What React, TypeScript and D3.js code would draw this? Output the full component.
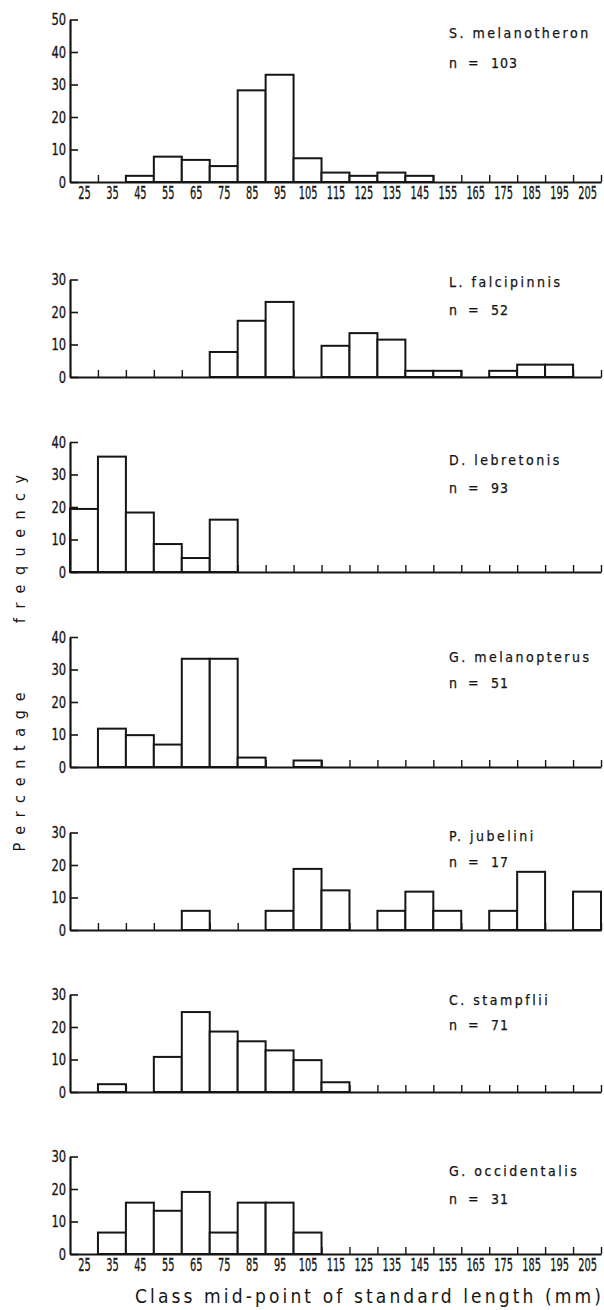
import React, { useEffect, useRef } from "react";
import * as d3 from "d3";

// class mid-points of standard length (mm), also the x tick labels
const midPoints = [25, 35, 45, 55, 65, 75, 85, 95, 105, 115, 125, 135, 145, 155, 165, 175, 185, 195, 205];

const speciesNames = [
  "S. melanotheron",
  "L. falcipinnis",
  "D. lebretonis",
  "G. melanopterus",
  "P. jubelini",
  "C. stampflii",
  "G. occidentalis",
];
const sampleSizes = [103, 52, 93, 51, 17, 71, 31];
const yMaxima = [50, 30, 40, 40, 30, 30, 30];

// percentage frequency per class
const melanotheron = [0, 0, 1.9, 7.8, 6.8, 4.9, 28.2, 33.0, 7.3, 2.9, 1.9, 2.9, 1.9, 0, 0, 0, 0, 0, 0];
const falcipinnis = [0, 0, 0, 0, 0, 7.7, 17.3, 23.1, 0, 9.6, 13.5, 11.5, 1.9, 1.9, 0, 1.9, 3.8, 3.8, 0];
const lebretonis = [19.4, 35.5, 18.3, 8.6, 4.3, 16.1, 0, 0, 0, 0, 0, 0, 0, 0, 0, 0, 0, 0, 0];
const melanopterus = [0, 11.8, 9.8, 6.9, 33.3, 33.3, 2.9, 0, 2.0, 0, 0, 0, 0, 0, 0, 0, 0, 0, 0];
const jubelini = [0, 0, 0, 0, 5.9, 0, 0, 5.9, 18.8, 12.2, 0, 5.9, 11.8, 5.9, 0, 5.9, 17.9, 0, 11.8];
const stampflii = [0, 2.4, 0, 10.8, 24.6, 18.6, 15.6, 12.8, 9.8, 3.0, 0, 0, 0, 0, 0, 0, 0, 0, 0];
const occidentalis = [0, 6.6, 15.8, 13.3, 19.1, 6.6, 15.8, 15.8, 6.6, 0, 0, 0, 0, 0, 0, 0, 0, 0, 0];

const series = [melanotheron, falcipinnis, lebretonis, melanopterus, jubelini, stampflii, occidentalis];

// layout
const W = 604;
const H = 1310;
const AXIS_X = 70;
const AXIS_END = 601;
const PX_PER_UNIT = 3.25;
const baselines = [182, 377, 572, 767, 930, 1092, 1254];
const titleYs = [33, 282, 460, 657, 836, 1000, 1171];
const nYs = [63, 310, 488, 683, 862, 1025, 1199];
const INK = "#151515";
const FONT = "'DejaVu Sans Condensed', 'DejaVu Sans', sans-serif";

export default function App() {
  const ref = useRef<SVGSVGElement>(null);

  useEffect(() => {
    const svg = d3.select(ref.current);
    svg.selectAll("*").remove();
    plot(svg);
  }, []);

  return (
    <svg
      ref={ref}
      width={W}
      height={H}
      style={{ position: "absolute", left: 0, top: 0, background: "#fff" }}
    />
  );
}

function plot(svg: any) {
  const x = d3.scaleLinear().domain([20, 210]).range([AXIS_X, AXIS_END]);
  const edges = d3.range(30, 211, 10);

  series.forEach((values, i) => {
    const base = baselines[i];
    const ymax = yMaxima[i];
    const y = d3.scaleLinear().domain([0, ymax]).range([base, base - ymax * PX_PER_UNIT]);
    const g = svg.append("g");

    // small upward ticks at the class edges (under the bars)
    g.append("g")
      .attr("transform", "translate(0," + base + ")")
      .call(d3.axisBottom(x).tickValues(edges).tickSizeInner(-7).tickSizeOuter(0).tickFormat(() => ""))
      .call((s: any) => s.select(".domain").remove())
      .selectAll(".tick line").attr("stroke", INK).attr("stroke-width", 1.4);

    // bars
    const bins = values.map((v, j) => ({ v, mid: midPoints[j] })).filter((d) => d.v > 0);
    g.selectAll("rect.bar")
      .data(bins)
      .enter()
      .append("rect")
      .attr("class", "bar")
      .attr("x", (d: any) => x(d.mid - 5))
      .attr("width", (d: any) => x(d.mid + 5) - x(d.mid - 5))
      .attr("y", (d: any) => y(d.v))
      .attr("height", (d: any) => y(0) - y(d.v))
      .attr("fill", "#fff")
      .attr("stroke", INK)
      .attr("stroke-width", 2);

    // x axis line
    const xa = g.append("g")
      .attr("transform", "translate(0," + base + ")")
      .call(d3.axisBottom(x).tickValues([]).tickSizeOuter(0));
    xa.select(".domain").attr("stroke", INK).attr("stroke-width", 2.2);

    // y axis, ticks pointing inwards
    const ya = g.append("g")
      .attr("transform", "translate(" + AXIS_X + ",0)")
      .call(d3.axisLeft(y).tickValues(d3.range(0, ymax + 1, 10)).tickSizeInner(-8).tickSizeOuter(0).tickPadding(5));
    ya.attr("font-family", null).attr("font-size", null);
    ya.select(".domain").attr("stroke", INK).attr("stroke-width", 2.2);
    ya.selectAll(".tick line").attr("stroke", INK).attr("stroke-width", 1.6);
    ya.selectAll(".tick text")
      .attr("font-family", FONT)
      .attr("font-size", 16)
      .attr("fill", INK)
      .attr("stroke", INK)
      .attr("stroke-width", 0.3)
      .attr("transform", "scale(0.8,1)");

    // class labels on first and last panel
    if (i === 0 || i === series.length - 1) {
      const xl = g.append("g")
        .attr("transform", "translate(0," + base + ")")
        .call(d3.axisBottom(x).tickValues(midPoints).tickSize(0).tickPadding(5));
      xl.attr("font-family", null).attr("font-size", null);
      xl.select(".domain").remove();
      xl.selectAll(".tick text")
        .attr("font-family", FONT)
        .attr("font-size", 17)
        .attr("fill", INK)
        .attr("stroke", INK)
        .attr("stroke-width", 0.3)
        .attr("transform", "scale(0.64,1)");
    }

    // species name and sample size
    g.append("text")
      .attr("x", 449)
      .attr("y", titleYs[i])
      .attr("dy", "0.35em")
      .attr("font-family", FONT)
      .attr("font-size", 14)
      .attr("letter-spacing", 2.5)
      .attr("fill", INK)
      .attr("stroke", INK)
      .attr("stroke-width", 0.25)
      .text(speciesNames[i]);
    const nRow = g.append("g")
      .attr("font-family", FONT)
      .attr("font-size", 14)
      .attr("fill", INK)
      .attr("stroke", INK)
      .attr("stroke-width", 0.25);
    nRow.append("text").attr("x", 449).attr("y", nYs[i]).attr("dy", "0.35em").text("n");
    nRow.append("text").attr("x", 468).attr("y", nYs[i]).attr("dy", "0.35em").text("=");
    nRow.append("text").attr("x", 491).attr("y", nYs[i]).attr("dy", "0.35em")
      .attr("letter-spacing", 1).text(String(sampleSizes[i]));
  });

  // axis titles
  svg.append("text")
    .attr("x", 135)
    .attr("y", 1296)
    .attr("dy", "0.35em")
    .attr("font-family", FONT)
    .attr("font-size", 19)
    .attr("fill", INK)
    .attr("textLength", 466)
    .attr("lengthAdjust", "spacing")
    .text("Class mid-point of standard length (mm)");

  const yTitle = [
    { word: "Percentage", centre: 772, len: 159 },
    { word: "frequency", centre: 549, len: 148 },
  ];
  yTitle.forEach((t) => {
    svg.append("text")
      .attr("transform", "translate(19," + t.centre + ") rotate(-90)")
      .attr("text-anchor", "middle")
      .attr("dy", "0.35em")
      .attr("font-family", FONT)
      .attr("font-size", 16)
      .attr("fill", INK)
      .attr("textLength", t.len)
      .attr("lengthAdjust", "spacing")
      .text(t.word);
  });
}
